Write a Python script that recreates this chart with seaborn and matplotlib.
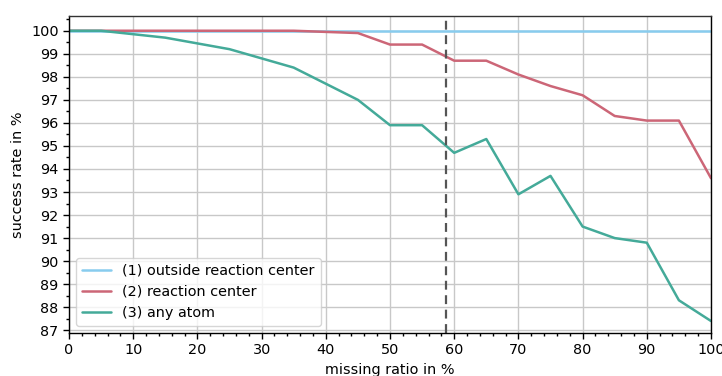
import numpy as np
import pandas as pd
import matplotlib
matplotlib.use("Agg")
import matplotlib.pyplot as plt
from matplotlib.ticker import MultipleLocator
import seaborn as sns

# missing ratio in % (x positions)
missing_ratio = [0, 5, 10, 15, 20, 25, 30, 35, 40, 45, 50,
                 55, 60, 65, 70, 75, 80, 85, 90, 95, 100]

# success rate in % for each setting
outside_center = [100.0] * 21
reaction_center = [100.0, 100.0, 100.0, 100.0, 100.0, 100.0, 100.0, 100.0, 99.95, 99.9, 99.4,
                   99.4, 98.7, 98.7, 98.1, 97.6, 97.2, 96.3, 96.1, 96.1, 93.6]
any_atom = [100.0, 100.0, 99.85, 99.7, 99.45, 99.2, 98.8, 98.4, 97.7, 97.0, 95.9,
            95.9, 94.7, 95.3, 92.9, 93.7, 91.5, 91.0, 90.8, 88.3, 87.4]

labels = ["(1) outside reaction center", "(2) reaction center", "(3) any atom"]
colors = ["#88CCEE", "#CC6677", "#44AA99"]
threshold = 58.8

df = pd.DataFrame({
    "missing ratio in %": missing_ratio * 3,
    "success rate in %": outside_center + reaction_center + any_atom,
    "setting": [labels[0]] * 21 + [labels[1]] * 21 + [labels[2]] * 21,
})

sns.set_style("ticks")
plt.rcParams["font.family"] = ["DejaVu Sans"]
plt.rcParams["font.size"] = 10.4
for key in ["text.color", "axes.labelcolor", "xtick.color", "ytick.color"]:
    plt.rcParams[key] = "black"

fig = plt.figure(figsize=(7.22, 3.76), dpi=100)
ax = fig.add_axes([69 / 722, 43 / 376, 642 / 722, 317 / 376])

sns.lineplot(data=df, x="missing ratio in %", y="success rate in %", hue="setting",
             palette=colors, linewidth=1.8, ax=ax)
ax.axvline(threshold, color="#555555", linestyle="--", linewidth=1.6, dashes=(4, 2.5))

ax.set_xlim(0, 100)
ax.set_ylim(86.88, 100.64)
ax.xaxis.set_major_locator(MultipleLocator(10))
ax.xaxis.set_minor_locator(MultipleLocator(2))
ax.yaxis.set_major_locator(MultipleLocator(1))
ax.yaxis.set_minor_locator(MultipleLocator(0.5))
ax.grid(True, which="major", color="#c8c8c8", linewidth=1)
ax.set_axisbelow(True)
ax.tick_params(axis="both", which="major", length=4, width=1, color="black", labelsize=10.4)
ax.tick_params(axis="both", which="minor", length=2.5, width=1, color="black")
for s in ax.spines.values():
    s.set_visible(True)
    s.set_color("black")
    s.set_linewidth(1)
ax.spines["top"].set_color("#333333")

ax.set_xlabel("missing ratio in %", fontsize=10.4)
ax.set_ylabel("success rate in %", fontsize=10.4)
ax.legend(loc="lower left", fontsize=10.4, frameon=True, framealpha=0.8,
          edgecolor="#cccccc", fancybox=True, handlelength=2.0)

fig.savefig("out.png", dpi=100)
